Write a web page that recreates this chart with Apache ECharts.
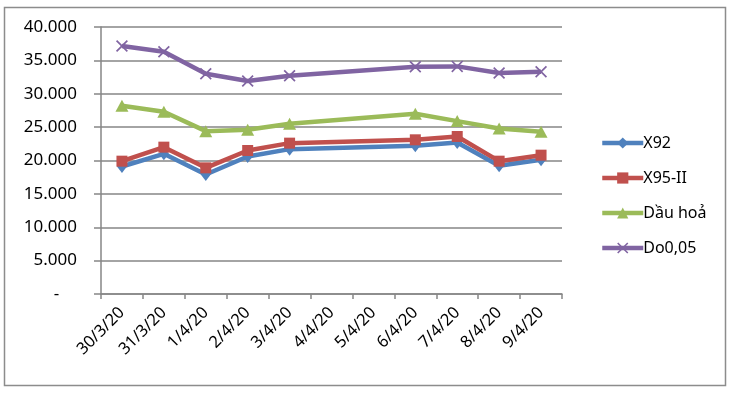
<!DOCTYPE html>
<html>
<head>
<meta charset="utf-8">
<script src="https://cdn.jsdelivr.net/npm/echarts@6/dist/echarts.min.js"></script>
<style>html,body{margin:0;padding:0;background:#fff;}#c{width:733px;height:393px;}</style>
</head>
<body>
<div id="c"></div>
<script>
var categories = ['30/3/20','31/3/20','1/4/20','2/4/20','3/4/20','4/4/20','5/4/20','6/4/20','7/4/20','8/4/20','9/4/20'];
var seriesNames = ['X92','X95-II','Dầu hoả','Do0,05'];
var x92   = [19100, 21000, 17900, 20600, 21700, null, null, 22200, 22700, 19200, 20100];
var x95   = [19900, 22000, 18900, 21500, 22600, null, null, 23100, 23600, 19900, 20800];
var dauHoa= [28200, 27300, 24400, 24600, 25500, null, null, 27000, 25900, 24800, 24300];
var do005 = [37150, 36300, 33000, 31900, 32700, null, null, 34050, 34100, 33100, 33300];
var yTicks = {min: 0, max: 40000, interval: 5000};

var colors = ['#4F81BD','#C0504D','#9BBB59','#8064A2'];
var symbols = ['diamond','rect','triangle','path://M0,1L1,0L5,4L9,0L10,1L6,5L10,9L9,10L5,6L1,10L0,9L4,5Z'];
var sizes = [[10,13],11,[13,12],12];
var datas = [x92, x95, dauHoa, do005];
var FONT = '"Noto Sans", "Liberation Sans", sans-serif';

function fmt(v){
  if (v === 0) return '-    ';
  var s = String(Math.round(v));
  return s.replace(/\B(?=(\d{3})+(?!\d))/g, '.');
}

var series = seriesNames.map(function(n, i){
  return {
    name: n, type: 'line', data: datas[i], connectNulls: true,
    symbol: symbols[i], symbolSize: sizes[i], showSymbol: true,
    lineStyle: {color: colors[i], width: 4.5},
    itemStyle: {color: colors[i]},
    emphasis: {disabled: true},
    animation: false, z: 2 + i
  };
});

var chart = echarts.init(document.getElementById('c'), null, {renderer: 'canvas'});
chart.setOption({
  animation: false,
  backgroundColor: '#fff',
  graphic: [{
    type: 'rect', shape: {x: 4.5, y: 7.5, width: 721, height: 378},
    style: {fill: null, stroke: '#8c8c8c', lineWidth: 1.5}, z: 0
  }],
  grid: {left: 101, top: 27, right: 171, bottom: 99, containLabel: false},
  legend: {
    orient: 'vertical', left: 595, top: 130, itemGap: 19,
    itemWidth: 41, itemHeight: 14,
    lineStyle: {width: 4.5},
    textStyle: {fontFamily: FONT, fontSize: 16, color: '#000', padding: [0,0,0,-5]},
    data: seriesNames
  },
  xAxis: {
    type: 'category', data: categories, boundaryGap: true,
    axisLine: {lineStyle: {color: '#868686', width: 1.5}},
    axisTick: {show: true, length: 5, lineStyle: {color: '#868686', width: 1.5}, alignWithLabel: false},
    axisLabel: {rotate: 45, margin: 16, interval: 0, fontFamily: FONT, fontSize: 16.5, color: '#000'},
    splitLine: {show: false}
  },
  yAxis: {
    type: 'value', min: yTicks.min, max: yTicks.max, interval: yTicks.interval,
    axisLine: {show: true, lineStyle: {color: '#868686', width: 1.5}},
    axisTick: {show: true, length: 7, lineStyle: {color: '#868686', width: 1.5}},
    axisLabel: {margin: 24, fontFamily: FONT, fontSize: 17, color: '#000', formatter: fmt},
    splitLine: {lineStyle: {color: '#868686', width: 1.5}}
  },
  series: series
});
</script>
</body>
</html>
